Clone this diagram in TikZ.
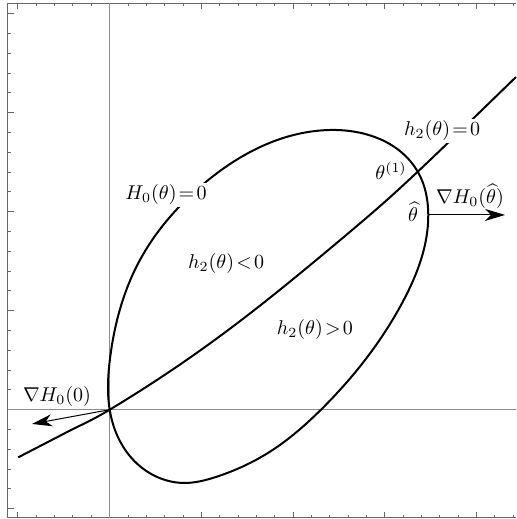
\documentclass[tikz,border=0pt]{standalone}
\usepackage{amsmath, amssymb}
\usetikzlibrary{arrows.meta, hobby}
\begin{document}
\begin{tikzpicture}[x=45.85pt, y=49.5pt]
  % Define styles
  \tikzstyle{frameline} = [draw=black!60, line width=0.5pt]
  \tikzstyle{axisline} = [draw=black!45, line width=0.5pt]
  \tikzstyle{curve} = [draw=black, line width=1pt]
  \tikzstyle{grad} = [draw=black, line width=0.5pt, -{Stealth[length=10pt, width=6pt, inset=3pt]}]
  \tikzstyle{lbl} = [inner sep=0.5pt]
  \tikzstyle{lblw} = [inner sep=1pt, fill=white]

  \useasboundingbox (-1.196,-1.104) rectangle (4.431,4.138);

  % Frame
  \draw[frameline] (4.431,4.103) -- (-1.109,4.103) -- (-1.109,-1.089) -- (4.431,-1.089);

  % Ticks
  \foreach \x in {-1,-0.8,...,4.41} {
    \draw[frameline] (\x,4.103) -- ++(0,-1.5pt);
    \draw[frameline] (\x,-1.089) -- ++(0,1.5pt);
  }
  \foreach \x in {-1,...,4} {
    \draw[frameline] (\x,4.103) -- ++(0,-3pt);
    \draw[frameline] (\x,-1.089) -- ++(0,3pt);
  }
  \foreach \y in {-1,-0.8,...,4.01} {
    \draw[frameline] (-1.109,\y) -- ++(1.75pt,0);
  }
  \foreach \y in {-1,...,4} {
    \draw[frameline] (-1.109,\y) -- ++(3.25pt,0);
  }

  % Axes
  \draw[axisline] (0,4.103) -- (0,-1.089);
  \draw[axisline] (-1.109,0) -- (4.431,0);

  % Points
  \coordinate (origin) at (0,0);
  \coordinate (thetaone) at (3.359,2.404);
  \coordinate (thetahat) at (3.474,1.967);
  \coordinate (gradtip) at (4.311,1.967);
  \coordinate (gradzero) at (-0.847,-0.144);

  % Level set H_0 = 0
  \draw[curve, use Hobby shortcut, closed=true] (origin) .. (0.003,0.512)
    .. (0.330,1.512) .. (0.985,2.250) .. (2.399,2.825) .. (thetaone)
    .. (thetahat) .. (3.195,1.088) .. (2.304,0) .. (1.748,-0.424)
    .. (1.167,-0.677) .. (0.803,-0.740) .. (0.439,-0.642) .. (0.185,-0.427);

  % Level set h_2 = 0
  \draw[curve] plot[smooth, tension=0.6] coordinates {
    (-0.997,-0.481) (-0.469,-0.228) (0,0) (0.803,0.479) (1.639,1.051)
    (2.686,1.848) (3.359,2.404) (4.43,3.36)};

  % Gradients
  \draw[grad] (thetahat) -- (gradtip);
  \draw[grad] (origin) -- (gradzero);

  % Labels
  \node[lblw] (hzero) at (0.614,2.169) {$H_0(\theta)\!=\!0$};
  \node[lbl] (hneg) at (1.270,1.472) {$h_2(\theta)\!<\!0$};
  \node[lbl] (hpos) at (2.238,0.805) {$h_2(\theta)\!>\!0$};
  \node[lblw] (htwo) at (3.626,2.815) {$h_2(\theta)\!=\!0$};
  \node[lbl] (thetaonelbl) at (3.068,2.411) {$\theta^{(1)}$};
  \node[lbl] (thetahatlbl) at (3.308,1.997) {$\widehat{\theta}$};
  \node[lbl] (gradhat) at (3.929,2.158) {$\nabla H_0(\widehat{\theta})$};
  \node[lbl] (gradzerolbl) at (-0.575,0.138) {$\nabla H_0(0)$};

\end{tikzpicture}
\end{document}
